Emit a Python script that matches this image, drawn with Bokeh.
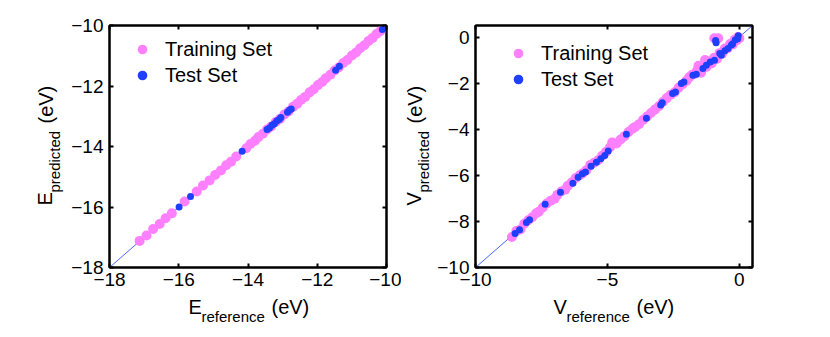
from bokeh.plotting import figure
from bokeh.models import LinearAxis, FixedTicker, Slope, Label, Legend, LegendItem, Range1d
from bokeh.layouts import row, column
from bokeh.embed import file_html
from bokeh.resources import INLINE
import math

PINK = "#FF80FF"
BLUE = "#1F3FFF"
FONT = "Liberation Sans"

# ---------------- data: energy panel ----------------
e_train_ref = [-17.13, -16.93, -16.74, -16.55, -16.38, -16.20, -15.83, -15.48, -15.30,
               -15.11, -14.95, -14.78, -14.63, -14.49, -14.34, -14.05, -13.93, -13.80,
               -13.70, -13.57, -13.45, -13.33, -13.20, -13.08, -12.95, -12.83, -12.70,
               -12.58, -12.47, -12.35, -12.22, -12.10, -11.98, -11.86, -11.75, -11.62,
               -11.50, -11.38, -11.25, -11.13, -11.00, -10.88, -10.76, -10.64, -10.52,
               -10.40, -10.29, -10.18, -10.10]
e_train_pred = [-17.12, -16.94, -16.73, -16.56, -16.37, -16.21, -15.82, -15.49, -15.29,
                -15.12, -14.94, -14.79, -14.62, -14.50, -14.33, -14.06, -13.92, -13.81,
                -13.69, -13.58, -13.44, -13.34, -13.19, -13.09, -12.94, -12.84, -12.69,
                -12.59, -12.46, -12.36, -12.21, -12.11, -11.97, -11.87, -11.74, -11.63,
                -11.49, -11.39, -11.24, -11.14, -10.99, -10.89, -10.75, -10.65, -10.51,
                -10.41, -10.28, -10.19, -10.11]
e_test_ref = [-15.99, -15.66, -14.17, -13.45, -13.38, -13.31, -13.24, -13.17, -13.10,
              -13.05, -12.86, -12.80, -12.75, -11.47, -11.36, -10.12]
e_test_pred = [-16.00, -15.65, -14.16, -13.44, -13.39, -13.30, -13.25, -13.16, -13.11,
               -13.04, -12.87, -12.79, -12.76, -11.48, -11.35, -10.13]
e_ticks = [-18, -16, -14, -12, -10]
e_range = [-18, -10]

# ---------------- data: potential panel ----------------
v_train_ref = [-8.62, -8.45, -8.30, -8.15, -8.00, -7.85, -7.70, -7.60, -7.45, -7.30,
               -7.15, -7.00, -6.90, -6.75, -6.60, -6.50, -6.35, -6.20, -6.05, -5.95,
               -5.80, -5.65, -5.50, -5.35, -5.20, -5.05, -4.90, -4.82, -4.65, -4.50,
               -4.35, -4.20, -4.05, -3.95, -3.80, -3.65, -3.50, -3.35, -3.20, -3.05,
               -2.90, -2.75, -2.60, -2.45, -2.30, -2.15, -2.00, -1.90, -1.80, -1.70,
               -1.60, -1.55, -1.50, -1.45, -1.35, -1.30, -1.25, -1.15, -1.05, -0.95,
               -0.85, -0.75, -0.65, -0.55, -0.45, -0.35, -0.25, -0.18, -0.10, -0.05,
               0.00, -0.95, -0.80]
v_train_pred = [-8.68, -8.42, -8.35, -8.10, -7.95, -7.82, -7.65, -7.58, -7.40, -7.22,
                -7.10, -7.02, -6.85, -6.70, -6.62, -6.45, -6.30, -6.12, -6.00, -5.92,
                -5.78, -5.55, -5.45, -5.35, -5.15, -4.98, -4.78, -4.58, -4.62, -4.45,
                -4.30, -4.12, -3.98, -3.90, -3.78, -3.60, -3.45, -3.30, -3.15, -3.00,
                -2.82, -2.65, -2.50, -2.40, -2.20, -2.05, -1.90, -1.75, -1.65, -1.60,
                -1.45, -1.25, -1.40, -1.55, -1.25, -1.00, -1.30, -1.05, -1.15, -0.90,
                -0.95, -0.70, -0.72, -0.50, -0.50, -0.30, -0.32, -0.12, -0.15, 0.00,
                -0.05, -0.05, -0.05]
v_test_ref = [-8.50, -8.33, -8.07, -7.95, -7.36, -6.78, -6.31, -6.11, -5.95, -5.83,
              -5.62, -5.42, -5.25, -5.10, -4.97, -4.28, -3.52, -2.98, -2.92, -2.53,
              -2.42, -2.20, -2.10, -1.76, -1.63, -1.38, -1.25, -1.10, -0.94, -0.90,
              -0.88, -0.74, -0.68, -0.55, -0.43, -0.30, -0.25, -0.15, -0.06, -0.04]
v_test_pred = [-8.52, -8.36, -8.05, -7.93, -7.26, -6.73, -6.34, -6.08, -5.93, -5.86,
               -5.61, -5.43, -5.28, -5.14, -4.95, -4.22, -3.52, -2.95, -2.85, -2.45,
               -2.38, -2.02, -1.95, -1.66, -1.62, -1.37, -1.22, -1.08, -1.01, -0.15,
               -0.25, -0.72, -0.79, -0.60, -0.50, -0.35, -0.29, -0.12, -0.07, 0.05]
v_xticks = [-10, -5, 0]
v_yticks = [-10, -8, -6, -4, -2, 0]
v_range = [-10, 0.5]

PLOT_H = 295
XLAB_H = 41


def minus_labels(ticks):
    return {t: str(t).replace("-", "\u2212") for t in ticks}


def style_axis(ax, ticks, show_labels):
    ax.ticker = FixedTicker(ticks=ticks)
    ax.axis_line_color = "black"
    ax.axis_line_width = 2
    ax.major_tick_line_color = "black"
    ax.major_tick_line_width = 2
    ax.major_tick_in = 4
    ax.major_tick_out = 0
    ax.minor_tick_line_color = None
    if show_labels:
        ax.major_label_overrides = minus_labels(ticks)
        ax.major_label_text_font = FONT
        ax.major_label_text_font_size = "19px"
        ax.major_label_text_color = "black"
    else:
        ax.major_label_text_font_size = "0px"
        ax.major_label_text_color = None
        ax.major_label_standoff = 0


def add_text(p, text, x, y, size, angle=0.0):
    p.add_layout(Label(x=x, y=y, x_units="screen", y_units="screen", text=text,
                       text_font=FONT, text_font_size=size, text_color="black",
                       text_baseline="alphabetic", text_align="left", angle=angle))


def text_canvas(width, height):
    """A bare figure used only to carry axis titles."""
    c = figure(width=width, height=height, x_range=Range1d(0, 1), y_range=Range1d(0, 1),
               output_backend="svg", toolbar_location=None, tools="",
               x_axis_type=None, y_axis_type=None, min_border=0)
    c.outline_line_color = None
    c.grid.visible = False
    c.background_fill_color = "white"
    c.border_fill_color = "white"
    return c


def make_panel(width, border_left, border_right, xr, yr, xticks, yticks,
               tr_x, tr_y, te_x, te_y, legend_xy, standoff):
    p = figure(width=width, height=PLOT_H, x_range=Range1d(*xr), y_range=Range1d(*yr),
               output_backend="svg", toolbar_location=None, tools="",
               min_border_left=border_left, min_border_right=border_right,
               min_border_top=25, min_border_bottom=28)
    p.background_fill_color = "white"
    p.border_fill_color = "white"
    p.outline_line_color = "black"
    p.outline_line_width = 2
    p.grid.visible = False
    style_axis(p.xaxis[0], xticks, True)
    style_axis(p.yaxis[0], yticks, True)
    p.xaxis[0].major_label_standoff = 5
    p.yaxis[0].major_label_standoff = 6
    top = LinearAxis()
    style_axis(top, xticks, False)
    p.add_layout(top, "above")
    right = LinearAxis()
    style_axis(right, yticks, False)
    p.add_layout(right, "right")

    p.add_layout(Slope(gradient=1, y_intercept=0, line_color=BLUE, line_width=0.8,
                       level="underlay"))
    r1 = p.scatter(tr_x, tr_y, size=10, color=PINK, line_color=None)
    r2 = p.scatter(te_x, te_y, size=7, color=BLUE, line_color=None)

    leg = Legend(items=[LegendItem(label="Training Set", renderers=[r1]),
                        LegendItem(label="Test Set", renderers=[r2])],
                 location=legend_xy, border_line_color=None, background_fill_alpha=0,
                 padding=0, margin=0, spacing=0, glyph_width=24, glyph_height=26,
                 label_height=26, label_standoff=standoff, label_text_font=FONT,
                 label_text_font_size="20px", label_text_color="black")
    p.add_layout(leg)
    return p


def make_xlabel(width, sym, x0):
    # inside a column the frame of this canvas is aligned with the plot frame above,
    # so x0 is measured from the plot frame's left edge
    c = text_canvas(width, XLAB_H)
    add_text(c, sym, x0, 30, "20px")
    add_text(c, "reference", x0 + 13, 20, "15px")
    add_text(c, "(eV)", x0 + 83, 30, "20px")
    return c


def make_ylabel(width, sym, x0):
    c = text_canvas(width, PLOT_H + XLAB_H)
    a = math.pi / 2
    add_text(c, sym, x0, 131, "20px", a)
    add_text(c, "predicted", x0 + 10, 144, "15px", a)
    add_text(c, "(eV)", x0 + 1, 213, "20px", a)
    return c


p1 = make_panel(333, 40, 15, e_range, e_range, e_ticks, e_ticks,
                e_train_ref, e_train_pred, e_test_ref, e_test_pred, (21, 179), 11)
p2 = make_panel(388, 40, 70, v_range, v_range, v_xticks, v_yticks,
                v_train_ref, v_train_pred, v_test_ref, v_test_pred, (31, 175), 11)

yl1 = make_ylabel(68, "E", 44)
xl1 = make_xlabel(333, "E", 79)
yl2 = make_ylabel(33, "V", 12)
xl2 = make_xlabel(388, "V", 78)

layout = row(yl1, column(p1, xl1), yl2, column(p2, xl2))
open("out.html", "w").write(file_html(layout, INLINE))
